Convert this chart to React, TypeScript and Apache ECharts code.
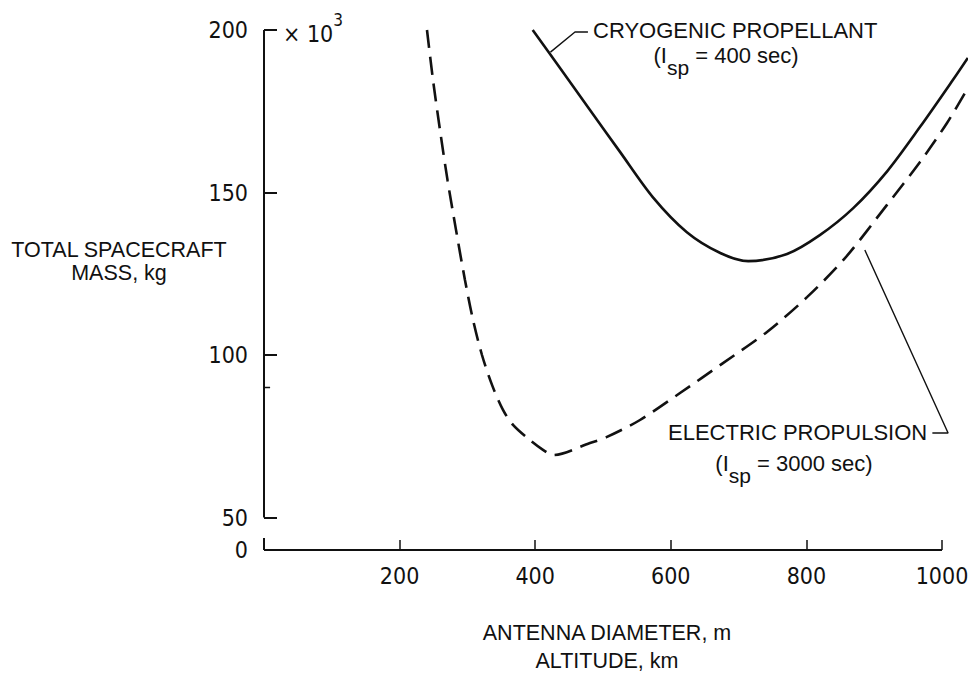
import React, { useEffect, useRef } from "react";
import * as echarts from "echarts";

// Cryogenic propellant (Isp = 400 sec): antenna diameter (m) vs total mass (x10^3 kg)
const cryoDiameter = [396.3, 436.6, 480.8, 525.1, 573.4, 623.7, 673, 714.2, 771.5, 819.8, 869.1, 919.4, 967.7, 1016, 1038.1];
const cryoMass = [200, 188.3, 175.4, 162.5, 148.6, 137.8, 131.4, 128.9, 131.1, 136.9, 145.2, 156.6, 170.2, 184.6, 191.4];

// Electric propulsion (Isp = 3000 sec)
const elecDiameter = [240.4, 249.3, 259.6, 270.7, 283.2, 296.4, 308.3, 321.5, 336.3, 352.5, 367.3, 392.3, 411.5, 426.3, 480.8, 505.9, 554.6, 613.6, 677, 741.9, 800.9, 856.9, 918.9, 967.6, 1007.4, 1038.3];
const elecMass = [200, 184.6, 169.2, 153.8, 138.5, 123.1, 110.8, 100, 90.8, 83.1, 78.5, 73.8, 70.8, 69.2, 72.9, 74.8, 80, 88.3, 97.5, 107.1, 117.8, 129.8, 146.2, 159.4, 171.4, 182.2];

// Axis ticks / labels (y axis is broken between 0 and 50; 0 drawn at the bottom of the frame)
const xLabelValues = [200, 400, 600, 800, 1000];
const xTickValues = [0, 200, 400, 600, 800, 1000];
const xAxisEnd = 1000;
const yLabelValues = [40, 50, 100, 150, 200];
const yTickValues = [50, 100, 150, 200];
const yMinorTickValue = 90;
const yBreakBottom = 40;
const yBreakTop = 43.7;

// Leader lines (data coordinates)
const cryoLeaderX = [422.5, 458.7, 477.8];
const cryoLeaderY = [193.2, 199.4, 199.4];
const elecLeaderX = [886.2, 1009, 985.8];
const elecLeaderY = [132.3, 76, 76];

const WORD_FONT = "'Liberation Sans', Arial, sans-serif";
const NUM_FONT = "'Liberation Sans Narrow', 'DejaVu Sans Condensed', sans-serif";
const INK = "#111111";

const zip = (a: number[], b: number[]) => a.map((v, i) => [v, b[i]]);

export default function App() {
  const ref = useRef<HTMLDivElement>(null);

  useEffect(() => {
    const chart = echarts.init(ref.current!, null, { renderer: "svg" });

    const frameLine = (data: number[][], width = 2) => ({
      type: "line",
      data,
      symbol: "none",
      silent: true,
      clip: false,
      lineStyle: { color: INK, width },
      z: 3,
    });

    const subText = (x: number, y: number, rest: string) => ({
      type: "text",
      x,
      y,
      style: {
        text: `{a|(I}{s|sp}{a|${rest}}`,
        align: "center",
        verticalAlign: "middle",
        fill: INK,
        rich: {
          a: { fontFamily: WORD_FONT, fontSize: 22, lineHeight: 34, verticalAlign: "top", fill: INK },
          s: { fontFamily: WORD_FONT, fontSize: 21, lineHeight: 34, verticalAlign: "bottom", fill: INK },
        },
      },
    });

    chart.setOption({
      animation: false,
      backgroundColor: "#ffffff",
      // x extent runs slightly past 1000 so the curves can continue to the page edge, as in the original
      grid: { left: 264, top: 30, width: 708.5, height: 520, outerBoundsMode: "none", containLabel: false },
      xAxis: {
        type: "value",
        min: 0,
        max: 1045,
        interval: 200,
        axisLine: { show: false },
        axisTick: {
          show: true,
          inside: true,
          length: 10,
          customValues: xTickValues,
          lineStyle: { color: INK, width: 1.5 },
        },
        axisLabel: {
          customValues: xLabelValues,
          margin: 14,
          fontFamily: NUM_FONT,
          fontSize: 23,
          color: INK,
          formatter: (v: number) => String(v),
        },
        splitLine: { show: false },
      },
      yAxis: {
        type: "value",
        min: 40,
        max: 200,
        interval: 10,
        axisLine: { show: false },
        axisTick: {
          show: true,
          inside: true,
          length: 13,
          customValues: yTickValues,
          lineStyle: { color: INK, width: 2 },
        },
        axisLabel: {
          customValues: yLabelValues,
          margin: 16,
          fontFamily: NUM_FONT,
          fontSize: 23,
          color: INK,
          formatter: (v: number) => (v === 40 ? "0" : String(v)),
        },
        splitLine: { show: false },
      },
      series: [
        frameLine([[0, 50], [0, 200]]),
        frameLine([[0, yBreakBottom], [0, yBreakTop]]),
        frameLine([[0, yBreakBottom], [xAxisEnd, yBreakBottom]]),
        frameLine([[0, yMinorTickValue], [9, yMinorTickValue]], 1.5),
        {
          name: "Cryogenic propellant",
          type: "line",
          data: zip(cryoDiameter, cryoMass),
          symbol: "none",
          smooth: 0.3,
          clip: false,
          silent: true,
          lineStyle: { color: INK, width: 2.6 },
        },
        {
          name: "Electric propulsion",
          type: "line",
          data: zip(elecDiameter, elecMass),
          symbol: "none",
          smooth: 0.3,
          clip: false,
          silent: true,
          lineStyle: { color: INK, width: 2.6, type: [18, 9] },
        },
        frameLine(zip(cryoLeaderX, cryoLeaderY), 1.4),
        frameLine(zip(elecLeaderX, elecLeaderY), 1.4),
      ],
      graphic: [
        {
          type: "text",
          x: 283,
          y: 28,
          style: {
            text: "{a|× 10}{s|3}",
            align: "left",
            verticalAlign: "middle",
            fill: INK,
            rich: {
              a: { fontFamily: NUM_FONT, fontSize: 23, lineHeight: 34, verticalAlign: "bottom", fill: INK },
              s: { fontFamily: NUM_FONT, fontSize: 17, lineHeight: 34, verticalAlign: "top", fill: INK },
            },
          },
        },
        {
          type: "text",
          x: 119,
          y: 261,
          style: {
            text: "TOTAL SPACECRAFT\nMASS, kg",
            align: "center",
            verticalAlign: "middle",
            fontFamily: WORD_FONT,
            fontSize: 21.5,
            lineHeight: 23,
            fill: INK,
          },
        },
        {
          type: "text",
          x: 607,
          y: 647,
          style: {
            text: "ANTENNA DIAMETER, m\nALTITUDE, km",
            align: "center",
            verticalAlign: "middle",
            fontFamily: WORD_FONT,
            fontSize: 21.5,
            lineHeight: 28,
            fill: INK,
          },
        },
        {
          type: "text",
          x: 593,
          y: 30,
          style: {
            text: "CRYOGENIC PROPELLANT",
            align: "left",
            verticalAlign: "middle",
            fontFamily: WORD_FONT,
            fontSize: 22,
            fill: INK,
          },
        },
        subText(726, 61, " = 400 sec)"),
        {
          type: "text",
          x: 668,
          y: 432,
          style: {
            text: "ELECTRIC PROPULSION",
            align: "left",
            verticalAlign: "middle",
            fontFamily: WORD_FONT,
            fontSize: 22,
            fill: INK,
          },
        },
        subText(794, 469, " = 3000 sec)"),
      ],
    });

    return () => chart.dispose();
  }, []);

  return (
    <div
      ref={ref}
      style={{ position: "absolute", left: 0, top: 0, width: 968, height: 684 }}
    />
  );
}
